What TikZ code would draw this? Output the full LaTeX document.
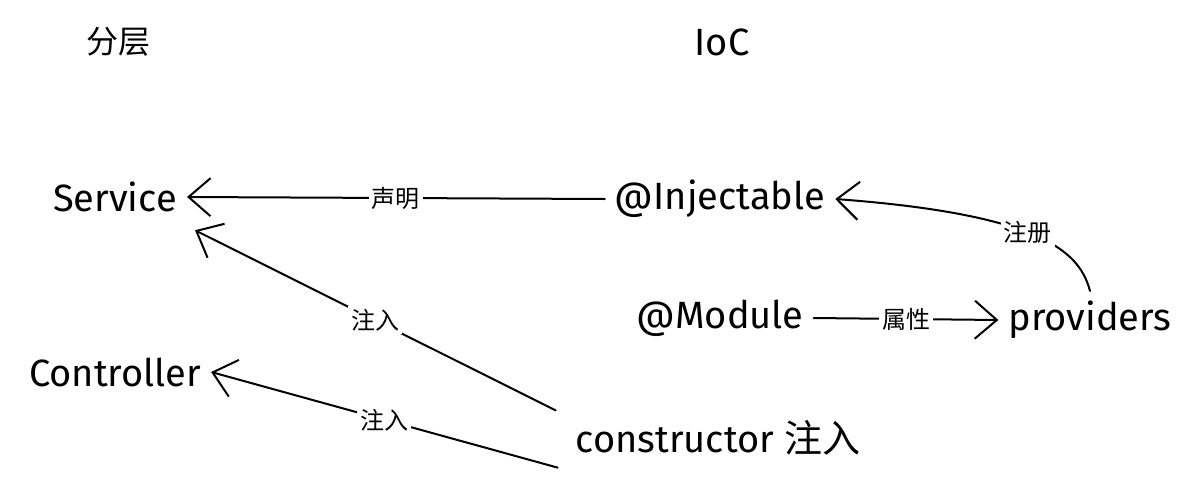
\documentclass[tikz,border=0pt]{standalone}
\usepackage{fontspec}
\setmainfont{Fira Sans}
\newfontfamily\cjk{Noto Sans CJK SC}
\usetikzlibrary{arrows.meta}
\tikzset{
  word/.style={font=\fontsize{38}{42}\selectfont, inner sep=10pt},
  tag/.style={font=\cjk\fontsize{24}{28}\selectfont, fill=white, inner sep=3pt},
  link/.style={line width=2pt, line cap=round, -{Straight Barb[length=22pt,width=38pt,line width=2pt]}}
}
\begin{document}
\begin{tikzpicture}[x=1pt,y=-1pt]
\useasboundingbox (0,0) rectangle (1199,485);
% headings
\node[word,font=\cjk\fontsize{32}{36}\selectfont] (layer) at (118,42) {分层};
\node[word] (ioc) at (722,42) {IoC};
% nodes
\node[word] (service) at (115,197) {Service};
\node[word] (inject) at (720,199) {@Injectable};
\node[word] (module) at (720,318) {@Module};
\node[word] (prov) at (1090,320) {providers};
\node[word] (ctrl) at (115,372) {Controller};
\node[word] (ctor) at (718,438) {constructor {\cjk 注入}};
% links
\draw[link] (inject.west) -- node[tag] {声明} (service.east);
\draw[link] (prov.north) .. controls (1080,255) and (1050,215) .. node[tag,pos=0.55] {注册} (inject.east);
\draw[link] (module.east) -- node[tag] {属性} (prov.west);
\draw[link] ([xshift=-10pt]ctor.north west) -- node[tag,pos=0.5] {注入} ([xshift=80pt,yshift=-8pt]service.south);
\draw[link] ([xshift=-8pt,yshift=-2pt]ctor.south west) -- node[tag,pos=0.5] {注入} (ctrl.east);
\end{tikzpicture}
\end{document}
